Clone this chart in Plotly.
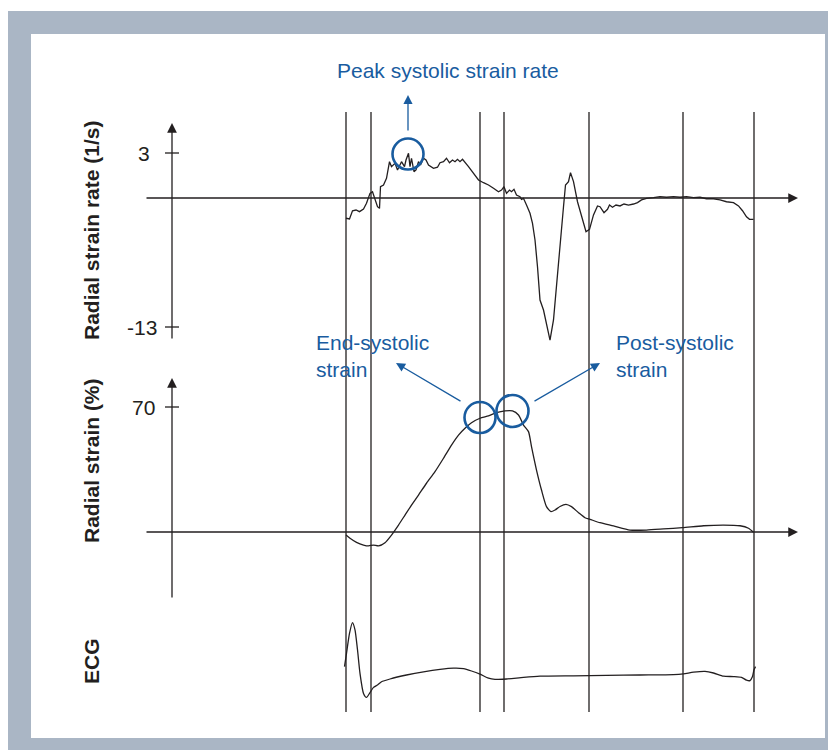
import plotly.graph_objects as go

# The page body has an 8px margin, so the figure is sized to the remaining area
# and all layout positions below are given in screen pixels and shifted by OFF.
OFF = 8
SCREEN_W, SCREEN_H = 836, 750
W, H = SCREEN_W - OFF, SCREEN_H - OFF

# ---------------- data (time in ms from QRS onset) ----------------
event_times = [0, 50, 268, 316, 486, 674, 816]

rate_t = [0, 7, 13, 20, 27, 35, 41, 48, 53, 58, 63, 67, 69, 75, 81, 87, 91, 98, 103, 111,
          117, 120, 125, 128, 131, 136, 140, 145, 149, 155, 160, 165, 175, 183, 188, 195,
          201, 207, 213, 218, 223, 228, 233, 245, 255, 265, 275, 285, 295, 305, 311, 316,
          321, 327, 331, 336, 341, 348, 351, 355, 361, 368, 373, 378, 383, 388, 395, 401,
          408, 415, 421, 428, 435, 439, 445, 449, 455, 463, 471, 480, 487, 495, 503, 508,
          516, 523, 527, 533, 540, 548, 556, 565, 575, 583, 591, 601, 615, 628, 641, 655,
          668, 681, 695, 708, 721, 735, 748, 761, 775, 785, 793, 801, 807, 815]
rate_v = [-1.35, -1.40, -0.85, -0.80, -0.91, -0.73, -0.35, 0.31, 0.42, -0.02, -0.58, -0.69,
          0.75, 0.87, 1.31, 2.42, 2.09, 2.31, 1.87, 2.42, 2.09, 2.53, 2.98, 2.09, 2.65, 1.75,
          1.87, 2.42, 2.20, 2.65, 2.53, 2.20, 1.98, 2.05, 2.35, 2.42, 2.65, 2.35, 2.53, 2.42,
          2.58, 2.42, 2.58, 2.09, 1.65, 1.20, 1.02, 0.87, 0.65, 0.42, 0.53, 0.75, 0.31, 0.53,
          0.42, 0.58, 0.20, 0.09, -0.09, -0.02, -0.47, -1.02, -1.69, -2.80, -4.58, -6.80,
          -7.47, -8.35, -9.47, -8.13, -5.69, -3.25, -0.58, 0.87, 1.09, 1.69, 1.09, -0.25,
          -1.25, -2.25, -2.09, -1.13, -0.53, -0.58, -0.98, -0.75, -0.47, -0.62, -0.47, -0.53,
          -0.40, -0.47, -0.40, -0.31, -0.13, -0.02, 0.02, 0.09, 0.05, 0.09, 0.05, 0.09, 0.02,
          0.05, -0.05, -0.05, -0.13, -0.25, -0.31, -0.53, -0.85, -1.25, -1.42, -1.42]

strain_t = [0, 8, 21, 35, 45, 55, 65, 78, 91, 105, 118, 131, 145, 161, 178, 195, 211, 225,
            238, 251, 268, 285, 301, 318, 333, 345, 355, 365, 371, 381, 391, 401, 410, 418,
            428, 440, 451, 465, 478, 488, 508, 535, 568, 601, 635, 673, 715, 755, 788, 805, 815]
strain_v = [-1.7, -3.5, -5.8, -7.3, -7.8, -7.3, -7.8, -6.0, -1.7, 3.9, 9.5, 15.1, 20.7, 27.3,
            33.8, 41.3, 48.7, 54.3, 58.1, 61.2, 63.7, 65.0, 66.8, 67.8, 67.8, 65.5, 59.9, 56.2,
            47.8, 34.7, 23.5, 14.2, 11.4, 12.3, 14.3, 15.5, 14.2, 10.8, 8.0, 7.1, 5.2, 3.4, 1.1,
            1.1, 1.7, 2.4, 3.5, 3.9, 3.5, 2.1, -0.2]

ecg_t = [-3, 1, 7, 13, 18, 23, 28, 35, 41, 48, 55, 63, 71, 88, 121, 155, 188, 215, 235, 251,
         268, 285, 298, 321, 355, 388, 455, 521, 588, 655, 675, 695, 718, 735, 755, 775, 791,
         801, 808, 813, 816, 819]
ecg_v = [0.26, 0.59, 1.09, 1.36, 1.18, 0.68, 0.09, -0.41, -0.51, -0.39, -0.26, -0.20, -0.12,
         -0.05, 0.05, 0.13, 0.19, 0.22, 0.21, 0.15, 0.07, -0.03, -0.06, -0.05, -0.01, 0.02,
         0.03, 0.04, 0.05, 0.06, 0.08, 0.12, 0.14, 0.10, 0.02, 0.01, -0.01, -0.08, -0.09,
         0.01, 0.18, 0.26]

rate_tick_vals = [3, -8.6]
rate_tick_text = ["3", "-13"]
strain_tick_vals = [70]
strain_tick_text = ["70"]

# ---------------- axis ranges (linear scales of each panel) ----------------
X_RANGE = [-676, 980]
RATE_RANGE = [-36.8, 12.667]
STRAIN_RANGE = [-122.08, 293.44]
ECG_RANGE = [-1.825, 16.725]

INK = "#231f20"
BLUE = "#195c9f"
FONT = "Liberation Sans, Arial, sans-serif"


def t_of(x_px):
    return X_RANGE[0] + (X_RANGE[1] - X_RANGE[0]) * (x_px - OFF) / W


def fx(x_px):
    return (x_px - OFF) / W


def fy(y_px):
    return 1 - (y_px - OFF) / H


fig = go.Figure()
fig.add_trace(go.Scatter(x=rate_t, y=rate_v, mode="lines", yaxis="y",
                         line=dict(color=INK, width=1.3), hoverinfo="skip"))
fig.add_trace(go.Scatter(x=strain_t, y=strain_v, mode="lines", yaxis="y2",
                         line=dict(color=INK, width=1.3, shape="spline", smoothing=0.6),
                         hoverinfo="skip"))
fig.add_trace(go.Scatter(x=ecg_t, y=ecg_v, mode="lines", yaxis="y3",
                         line=dict(color=INK, width=1.3, shape="spline", smoothing=0.6),
                         hoverinfo="skip"))

shapes = [
    dict(type="rect", xref="paper", yref="paper", x0=0, x1=1, y0=0, y1=fy(11),
         fillcolor="#aab6c5", line=dict(width=0), layer="below"),
    dict(type="rect", xref="paper", yref="paper", x0=fx(31), x1=fx(825), y0=fy(738), y1=fy(34),
         fillcolor="white", line=dict(width=0), layer="below"),
]
for t in event_times:
    shapes.append(dict(type="line", xref="x", yref="paper", x0=t, x1=t, y0=fy(712), y1=fy(112),
                       line=dict(color=INK, width=1.3), layer="below"))
for v in rate_tick_vals:
    shapes.append(dict(type="line", xref="x", yref="y", x0=t_of(165), x1=t_of(179), y0=v, y1=v,
                       line=dict(color=INK, width=1.3)))
for v in strain_tick_vals:
    shapes.append(dict(type="line", xref="x", yref="y2", x0=t_of(165), x1=t_of(179), y0=v, y1=v,
                       line=dict(color=INK, width=1.3)))


def circle(tc, vc, yref, r):
    return dict(type="circle", xref="x", yref=yref, xsizemode="pixel", ysizemode="pixel",
                xanchor=tc, yanchor=vc, x0=-r, x1=r, y0=-r, y1=r,
                line=dict(color=BLUE, width=2.6), layer="above")


shapes.append(circle(124, 2.93, "y", 15.5))       # peak systolic strain rate
shapes.append(circle(268, 64.1, "y2", 15.5))      # end-systolic strain
shapes.append(circle(333, 67.8, "y2", 16))        # post-systolic strain

annotations = []


def arrow(x, y, xref, yref, ax, ay, color, head_size=1.5):
    annotations.append(dict(x=x, y=y, xref=xref, yref=yref, ax=ax, ay=ay, text="",
                            showarrow=True, arrowhead=2, arrowsize=head_size, arrowwidth=1.3,
                            arrowcolor=color, standoff=0, startstandoff=0))


# axes (drawn as arrows)
arrow(t_of(798), 0, "x", "y", -653, 0, INK)
arrow(t_of(798), 0, "x", "y2", -653, 0, INK)
arrow(t_of(172), 5.0, "x", "y", 0, 217, INK)
arrow(t_of(172), 86.24, "x", "y2", 0, 221, INK)

# blue call-out arrows
arrow(124, (198 - 95) / 15, "x", "y", 0, 37, BLUE, 1.4)
arrow(fx(396), fy(363), "paper", "paper", 66, 39, BLUE, 1.4)
arrow(fx(600), fy(363), "paper", "paper", -67, 39, BLUE, 1.4)


def text(x_px, y_px, s, size=21, color=INK, anchor="center", bold=False, angle=0, align="left"):
    annotations.append(dict(x=fx(x_px), y=fy(y_px), xref="paper", yref="paper", text=s,
                            showarrow=False, xanchor=anchor, yanchor="middle", align=align,
                            textangle=angle,
                            font=dict(family=FONT, size=size, color=color,
                                      weight="bold" if bold else "normal")))


# tick labels
annotations.append(dict(x=t_of(152), y=rate_tick_vals[0], xref="x", yref="y", text=rate_tick_text[0],
                        showarrow=False, xanchor="right", yanchor="middle",
                        font=dict(family=FONT, size=21, color=INK)))
annotations.append(dict(x=t_of(159), y=rate_tick_vals[1], xref="x", yref="y", text=rate_tick_text[1],
                        showarrow=False, xanchor="right", yanchor="middle",
                        font=dict(family=FONT, size=21, color=INK)))
annotations.append(dict(x=t_of(157), y=strain_tick_vals[0], xref="x", yref="y2", text=strain_tick_text[0],
                        showarrow=False, xanchor="right", yanchor="middle",
                        font=dict(family=FONT, size=21, color=INK)))

# axis titles
text(91, 231, "Radial strain rate (1/s)", bold=True, angle=-90)
text(91, 461, "Radial strain (%)", bold=True, angle=-90)
text(91, 661, "ECG", bold=True, angle=-90)

# call-out labels
text(448, 71, "Peak systolic strain rate", color=BLUE)
text(314, 356, "End-systolic<br>strain", color=BLUE, anchor="left")
text(614, 356, "Post-systolic<br>strain", color=BLUE, anchor="left")

hidden = dict(visible=False, showgrid=False, zeroline=False, fixedrange=True)
fig.update_layout(
    width=W, height=H, autosize=False,
    margin=dict(l=0, r=0, t=0, b=0, pad=0),
    paper_bgcolor="white", plot_bgcolor="rgba(0,0,0,0)",
    showlegend=False,
    xaxis=dict(range=X_RANGE, domain=[0, 1], **hidden),
    yaxis=dict(range=RATE_RANGE, domain=[0, 1], **hidden),
    yaxis2=dict(range=STRAIN_RANGE, overlaying="y", **hidden),
    yaxis3=dict(range=ECG_RANGE, overlaying="y", **hidden),
    shapes=shapes,
    annotations=annotations,
)

fig.write_html("out.html")
